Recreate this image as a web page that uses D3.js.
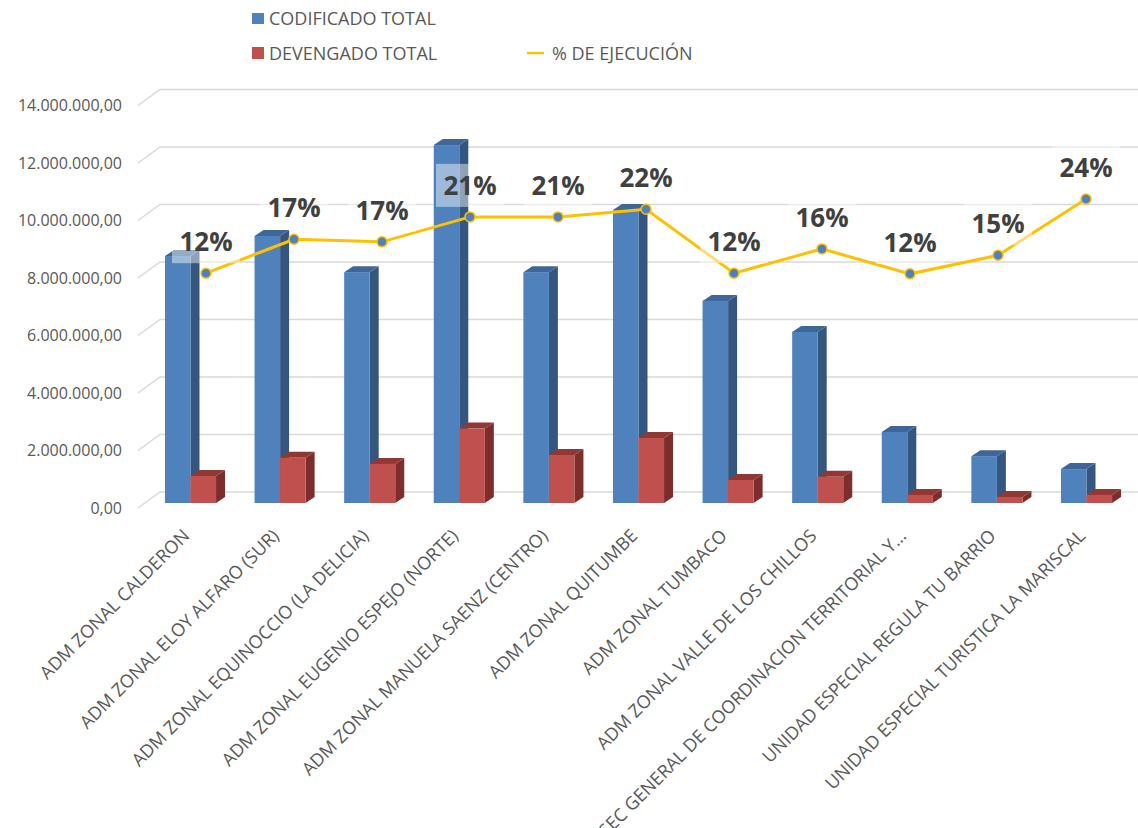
<!DOCTYPE html>
<html>
<head>
<meta charset="utf-8">
<script src="https://cdn.jsdelivr.net/npm/d3@7"></script>
<style>
  body { margin: 0; background: #ffffff; }
  svg { display: block; font-family: "Open Sans", sans-serif; }
</style>
</head>
<body>
<div id="chart"></div>
<script>
// Data
var categories = [
    "ADM ZONAL CALDERON",
    "ADM ZONAL ELOY ALFARO (SUR)",
    "ADM ZONAL EQUINOCCIO (LA DELICIA)",
    "ADM ZONAL EUGENIO ESPEJO (NORTE)",
    "ADM ZONAL MANUELA SAENZ (CENTRO)",
    "ADM ZONAL QUITUMBE",
    "ADM ZONAL TUMBACO",
    "ADM ZONAL VALLE DE LOS CHILLOS",
    "SEC GENERAL DE COORDINACION TERRITORIAL Y\u2026",
    "UNIDAD ESPECIAL REGULA TU BARRIO",
    "UNIDAD ESPECIAL TURISTICA LA MARISCAL"
];
var codificado = [8590000, 9290000, 8030000, 12450000, 8030000, 10190000, 7030000, 5950000, 2470000, 1630000, 1180000];
var devengado = [940000, 1570000, 1360000, 2590000, 1670000, 2260000, 800000, 910000, 280000, 210000, 280000];
var ejecucion = [0.12, 0.173, 0.169, 0.208, 0.208, 0.22, 0.12, 0.158, 0.119, 0.148, 0.236];
var yTicks = [0, 2000000, 4000000, 6000000, 8000000, 10000000, 12000000, 14000000];

var seriesNames = ["CODIFICADO TOTAL", "DEVENGADO TOTAL"];
var colors = {
    front: ["#4F81BD", "#C0504D"],
    side: ["#35577F", "#7D2E2C"],
    top: ["#3E6699", "#913835"]
};

var width = 1138, height = 828;
var depthX = 9, depthY = -6;

var svg = d3.select("#chart")
    .append("svg")
    .attr("width", width)
    .attr("height", height);

svg.append("rect").attr("width", width).attr("height", height).attr("fill", "#fff");

// Scales
var y = d3.scaleLinear().domain([0, 14000000]).range([503, 100.5]);
var x0 = d3.scaleBand()
    .domain(categories)
    .range([145.7, 1131.3])
    .paddingInner(0.43)
    .paddingOuter(0.215);
var x1 = d3.scaleBand().domain([0, 1]).range([0, x0.bandwidth()]);
var xLine = d3.scalePoint().domain(categories).range([206, 1086]);
var yPct = d3.scaleLinear().domain([0, 0.25]).range([350, 190]);

var es = d3.formatLocale({ decimal: ",", thousands: ".", grouping: [3], currency: ["$", ""] });
var fmt = es.format(",.2f");

// Gridlines (3D back wall + floor edge)
var grid = svg.append("g");
grid.selectAll(".gl")
    .data(yTicks)
    .enter()
    .append("path")
    .attr("fill", "none")
    .attr("stroke", "#D9D9D9")
    .attr("stroke-width", 1.5)
    .attr("d", function (d) {
        return "M138," + (y(d) + 5) + "L160," + (y(d) - 11) + "L" + width + "," + (y(d) - 11);
    });

grid.selectAll(".yl")
    .data(yTicks)
    .enter()
    .append("text")
    .attr("x", 122)
    .attr("y", function (d) { return y(d) + 5; })
    .attr("dy", "0.35em")
    .attr("text-anchor", "end")
    .attr("fill", "#595959")
    .style("font-size", "16px")
    .text(function (d) { return fmt(d); });

// 3D bars
var rows = [];
categories.forEach(function (c, i) {
    rows.push({ cat: c, s: 0, v: codificado[i] });
    rows.push({ cat: c, s: 1, v: devengado[i] });
});

var bar = svg.append("g").selectAll("g")
    .data(rows)
    .enter()
    .append("g");

function barX(d) { return x0(d.cat) + x1(d.s); }
var bw = x1.bandwidth();

bar.append("path")
    .attr("fill", function (d) { return colors.side[d.s]; })
    .attr("d", function (d) {
        var a = barX(d) + bw, t = y(d.v), b = y(0);
        return "M" + a + "," + t + "L" + (a + depthX) + "," + (t + depthY) +
            "L" + (a + depthX) + "," + (b + depthY) + "L" + a + "," + b + "Z";
    });

bar.append("path")
    .attr("fill", function (d) { return colors.top[d.s]; })
    .attr("d", function (d) {
        var l = barX(d), t = y(d.v);
        return "M" + l + "," + t + "L" + (l + depthX) + "," + (t + depthY) +
            "L" + (l + bw + depthX) + "," + (t + depthY) + "L" + (l + bw) + "," + t + "Z";
    });

bar.append("rect")
    .attr("x", barX)
    .attr("y", function (d) { return y(d.v); })
    .attr("width", bw)
    .attr("height", function (d) { return y(0) - y(d.v); })
    .attr("fill", function (d) { return colors.front[d.s]; });

// Percentage line
var line = d3.line()
    .x(function (d, i) { return xLine(categories[i]); })
    .y(function (d) { return yPct(d); });

svg.append("path")
    .datum(ejecucion)
    .attr("fill", "none")
    .attr("stroke", "#FFC000")
    .attr("stroke-width", 3)
    .attr("d", line);

svg.append("g").selectAll("circle")
    .data(ejecucion)
    .enter()
    .append("circle")
    .attr("cx", function (d, i) { return xLine(categories[i]); })
    .attr("cy", function (d) { return yPct(d); })
    .attr("r", 5)
    .attr("fill", "#4F81BD")
    .attr("stroke", "#FFC000")
    .attr("stroke-width", 1.5);

// Data labels with translucent background
var lab = svg.append("g").selectAll("g")
    .data(ejecucion)
    .enter()
    .append("g")
    .attr("transform", function (d, i) {
        return "translate(" + xLine(categories[i]) + "," + (yPct(d) - 22) + ")";
    });

lab.append("rect")
    .attr("x", -34)
    .attr("y", -31)
    .attr("width", 68)
    .attr("height", 43)
    .attr("fill", "#fff")
    .attr("fill-opacity", 0.45);

lab.append("text")
    .attr("text-anchor", "middle")
    .attr("fill", "#404040")
    .style("font-size", "26px")
    .style("font-weight", "bold")
    .text(function (d) { return Math.round(d * 100) + "%"; });

// Category labels
svg.append("g").selectAll("text")
    .data(categories)
    .enter()
    .append("text")
    .attr("transform", function (d) {
        return "translate(" + (x0(d) + x0.bandwidth() / 2) + ",537) rotate(-45)";
    })
    .attr("text-anchor", "end")
    .attr("fill", "#595959")
    .style("font-size", "18px")
    .text(function (d) { return d; });

// Legend
var legend = svg.append("g");
legend.append("rect").attr("x", 252).attr("y", 13).attr("width", 12).attr("height", 11).attr("fill", colors.front[0]);
legend.append("text").attr("x", 269).attr("y", 25).attr("fill", "#595959").style("font-size", "18px").text(seriesNames[0]);
legend.append("rect").attr("x", 252).attr("y", 47).attr("width", 12).attr("height", 12).attr("fill", colors.front[1]);
legend.append("text").attr("x", 269).attr("y", 60).attr("fill", "#595959").style("font-size", "18px").text(seriesNames[1]);
legend.append("line").attr("x1", 527).attr("x2", 544).attr("y1", 53).attr("y2", 53).attr("stroke", "#FFC000").attr("stroke-width", 2.5);
legend.append("text").attr("x", 552).attr("y", 60).attr("fill", "#595959").style("font-size", "18px").text("% DE EJECUCIÓN");
</script>
</body>
</html>
